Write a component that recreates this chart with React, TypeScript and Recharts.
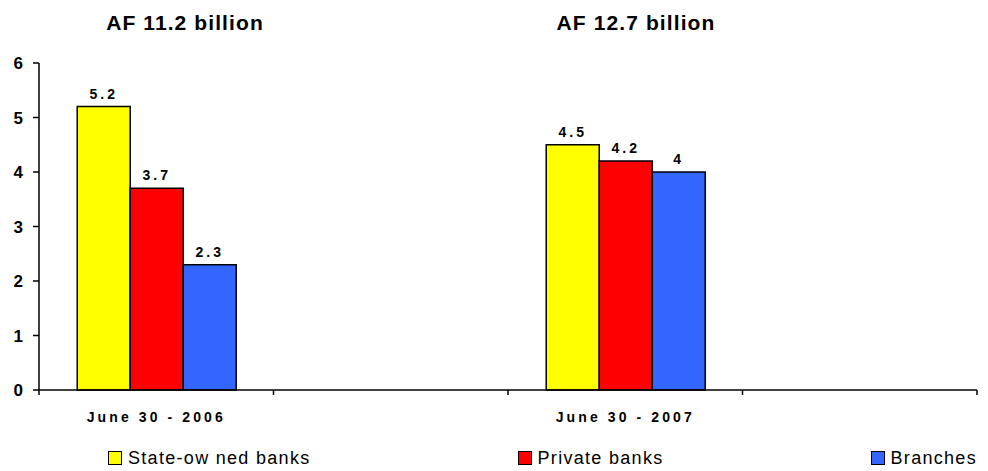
import { Bar, BarChart, LabelList, Legend, XAxis, YAxis } from "recharts";

const periods = ["June 30 - 2006", "", "June 30 - 2007", ""];
const stateOwned = [5.2, null, 4.5, null];
const privateBanks = [3.7, null, 4.2, null];
const branches = [2.3, null, 4, null];
const seriesNames = ["State-ow ned banks", "Private banks", "Branches"];
const yTicks = [0, 1, 2, 3, 4, 5, 6];
const slotTicks = [0, 1, 2, 3, 4];
const titles = [
  { text: "AF 11.2 billion", left: 185 },
  { text: "AF 12.7 billion", left: 636 },
];

const data = periods.map((period, i) => ({
  period,
  slot: i + 0.5,
  stateOwned: stateOwned[i],
  privateBanks: privateBanks[i],
  branches: branches[i],
}));

const font = "'Liberation Sans', Arial, sans-serif";

const renderLegend = (props: any) => {
  const items = seriesNames
    .map((name) => props.payload.find((p: any) => p.value === name))
    .filter(Boolean);
  return (
    <div
      style={{
        display: "flex",
        justifyContent: "space-between",
        fontFamily: font,
        fontSize: 18,
        letterSpacing: 1.3,
        lineHeight: "22px",
        color: "#000",
      }}
    >
      {items.map((entry: any) => (
        <span key={entry.value} style={{ display: "flex", alignItems: "center" }}>
          <span
            style={{
              display: "inline-block",
              width: 12,
              height: 12,
              background: entry.color,
              border: "1.5px solid #000",
              marginRight: 6,
            }}
          />
          {entry.value}
        </span>
      ))}
    </div>
  );
};

const YTick = ({ x, y, payload }: any) => (
  <text
    x={x}
    y={y}
    dy={6}
    textAnchor="end"
    fill="#000"
    fontFamily={font}
    fontSize={17}
    fontWeight="bold"
  >
    {payload.value}
  </text>
);

const labelProps = {
  position: "top" as const,
  offset: 8,
  fill: "#000",
  fontFamily: font,
  fontSize: 14,
  fontWeight: "bold",
  letterSpacing: 3,
};

const App = () => {
  return (
    <div style={{ position: "absolute", left: 0, top: 0, width: 988, height: 471, background: "#fff" }}>
      {titles.map((t) => (
        <div
          key={t.text}
          style={{
            position: "absolute",
            left: t.left,
            top: 13,
            transform: "translateX(-50%)",
            fontFamily: font,
            fontWeight: "bold",
            fontSize: 21,
            letterSpacing: 1.1,
            lineHeight: "20px",
            whiteSpace: "nowrap",
            color: "#000",
          }}
        >
          {t.text}
        </div>
      ))}
      <BarChart
        width={988}
        height={471}
        data={data}
        margin={{ top: 63, right: 11, left: 0, bottom: 19 }}
        barCategoryGap="16.3%"
        barGap={0}
      >
        <XAxis
          xAxisId="a"
          dataKey="slot"
          type="number"
          domain={[0, 4]}
          allowDataOverflow
          ticks={slotTicks}
          tickFormatter={() => ""}
          height={6}
          tickSize={5}
          stroke="#000"
          strokeWidth={1.5}
        />
        <XAxis
          xAxisId="b"
          dataKey="period"
          height={34}
          axisLine={false}
          tickLine={false}
          tickMargin={10}
          tick={{ fill: "#000", fontFamily: font, fontSize: 14, fontWeight: "bold", letterSpacing: 3.1 }}
        />
        <YAxis
          domain={[0, 6]}
          ticks={yTicks}
          width={39}
          tickSize={6}
          tickMargin={10}
          stroke="#000"
          strokeWidth={1.5}
          tick={<YTick />}
        />
        <Legend
          verticalAlign="bottom"
          content={renderLegend}
          wrapperStyle={{ left: 108, width: 869, bottom: 2, height: 22 }}
        />
        <Bar xAxisId="b" dataKey="stateOwned" name="State-ow ned banks" fill="#FFFF00" stroke="#000" strokeWidth={1.5} isAnimationActive={false}>
          <LabelList dataKey="stateOwned" {...labelProps} />
        </Bar>
        <Bar xAxisId="b" dataKey="privateBanks" name="Private banks" fill="#FF0000" stroke="#000" strokeWidth={1.5} isAnimationActive={false}>
          <LabelList dataKey="privateBanks" {...labelProps} />
        </Bar>
        <Bar xAxisId="b" dataKey="branches" name="Branches" fill="#3366FF" stroke="#000" strokeWidth={1.5} isAnimationActive={false}>
          <LabelList dataKey="branches" {...labelProps} />
        </Bar>
      </BarChart>
    </div>
  );
};

export default App;
